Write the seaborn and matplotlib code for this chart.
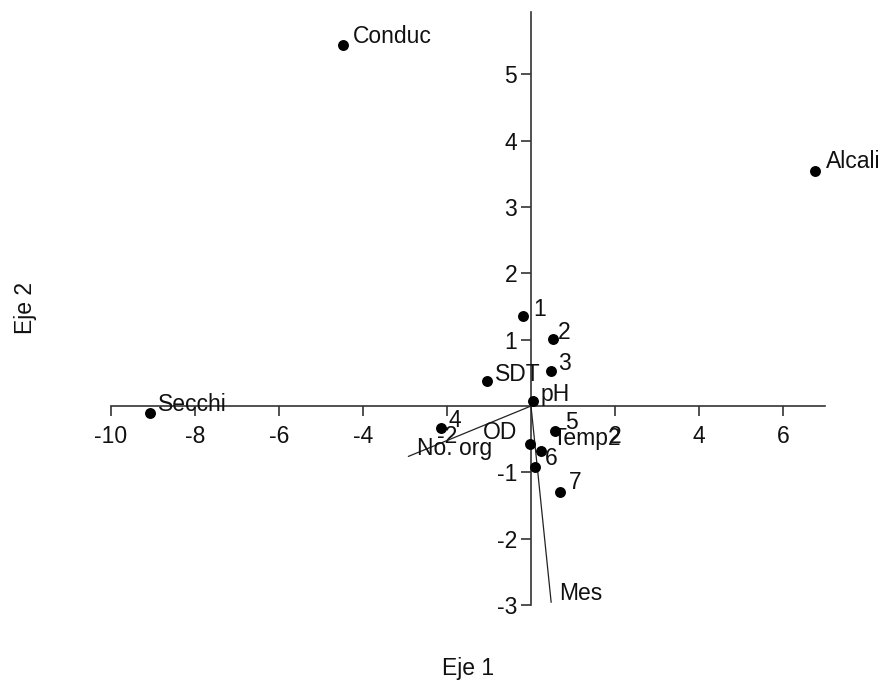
import matplotlib
matplotlib.use("Agg")
import matplotlib.pyplot as plt
import seaborn as sns
import pandas as pd

# ---- data ----
point_names = ["Conduc", "Alcali", "Secchi", "1", "2", "3", "SDT", "pH",
               "4", "5", "OD", "Temp2", "6", "7"]
point_x = [-4.48, 6.76, -9.07, -0.20, 0.53, 0.47, -1.04, 0.04,
           -2.14, 0.57, -0.02, 0.24, 0.10, 0.68]
point_y = [5.44, 3.54, -0.11, 1.36, 1.01, 0.53, 0.38, 0.08,
           -0.33, -0.37, -0.57, -0.68, -0.92, -1.30]

vector_names = ["No. org", "Mes"]
vector_x = [-2.92, 0.48]
vector_y = [-0.76, -2.96]

x_ticks = [-10, -8, -6, -4, -2, 2, 4, 6]
y_ticks = [-3, -2, -1, 1, 2, 3, 4, 5]

# label offsets in pixels (style only)
point_offsets = {"Conduc": (10, 2), "Alcali": (11, 3), "Secchi": (8, 2),
                 "1": (11, 0), "2": (5, 0), "3": (7, 1), "SDT": (8, 0),
                 "pH": (8, 0), "4": (7, 1), "5": (10, 2), "OD": (-13, 5),
                 "Temp2": (11, 6), "6": (10, 2), "7": (9, 3)}
vector_offsets = {"No. org": (9, 1), "Mes": (8, 2)}

sns.set_style("white")
plt.rcParams['font.family'] = ['Liberation Sans', 'DejaVu Sans']

FS = 16.5
fig = plt.figure(figsize=(8.83, 6.86), dpi=100)
ax = fig.add_axes([111 / 883, (686 - 605) / 686, 714 / 883, 593 / 686])

df = pd.DataFrame({"x": point_x, "y": point_y, "name": point_names})

# vectors from origin
for name, vx, vy in zip(vector_names, vector_x, vector_y):
    ax.plot([0, vx], [0, vy], color="#222222", lw=0.9, zorder=3)
    dx, dy = vector_offsets[name]
    ax.annotate(name, (vx, vy), xytext=(dx, dy), textcoords="offset pixels",
                ha="left", va="baseline", fontsize=FS, color="#111111", zorder=4)

sns.scatterplot(data=df, x="x", y="y", ax=ax, color="black", s=62,
                linewidth=0, zorder=5, legend=False)

for name, px, py in zip(point_names, point_x, point_y):
    dx, dy = point_offsets[name]
    ha = "right" if dx < 0 else "left"
    ax.annotate(name, (px, py), xytext=(dx, dy), textcoords="offset pixels",
                ha=ha, va="baseline", fontsize=FS, color="#111111", zorder=4)

ax.set_xlim(-10, 7)
ax.set_ylim(-3, 5.94)

for side in ["top", "right"]:
    ax.spines[side].set_visible(False)
ax.spines["left"].set_position(("data", 0))
ax.spines["bottom"].set_position(("data", 0))
for side in ["left", "bottom"]:
    ax.spines[side].set_color("#333333")
    ax.spines[side].set_linewidth(1.2)
    ax.spines[side].set_zorder(2)

ax.set_xticks(x_ticks)
ax.set_yticks(y_ticks)
ax.set_xticklabels([str(t) for t in x_ticks])
ax.set_yticklabels([str(t) for t in y_ticks])
ax.tick_params(axis="both", direction="out", length=7, width=1.2,
               color="#333333", labelsize=FS, labelcolor="#111111",
               bottom=True, left=True, top=False, right=False)
ax.tick_params(axis="x", pad=7)
ax.tick_params(axis="y", pad=3)

ax.set_xlabel("Eje 1", fontsize=FS, color="#111111")
ax.set_ylabel("Eje 2", fontsize=FS, color="#111111")
ax.xaxis.set_label_coords(0.5, -0.088)
ax.yaxis.set_label_coords(-0.104, 0.5)

fig.savefig("out.png", dpi=100, facecolor="white")
